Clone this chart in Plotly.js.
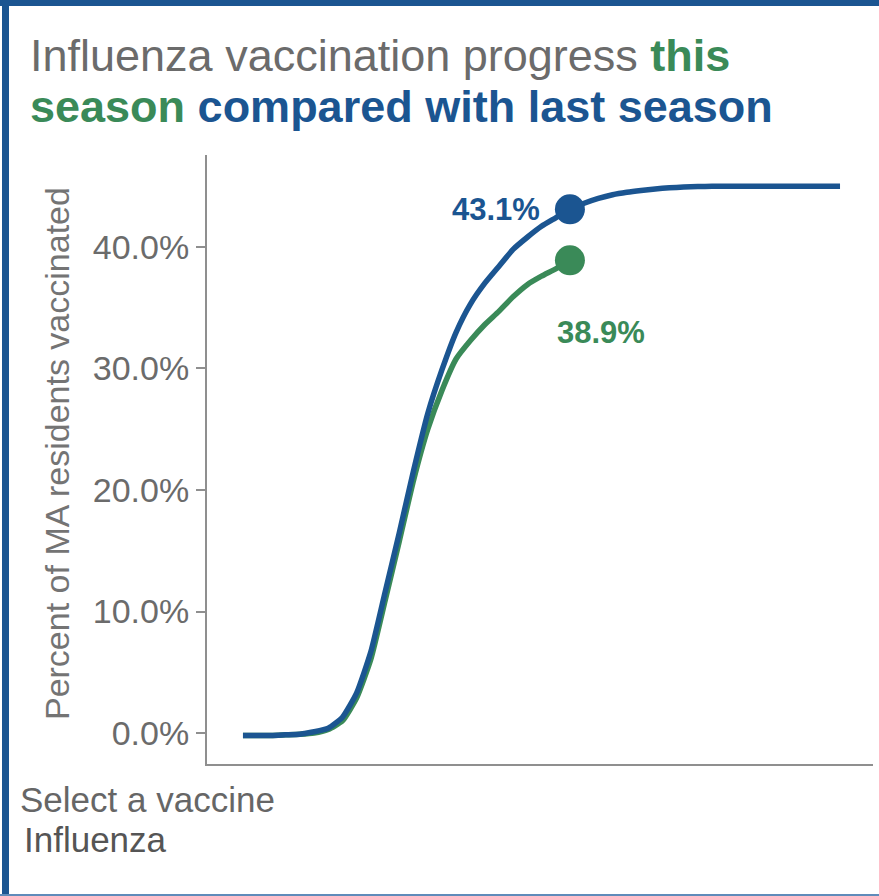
<!DOCTYPE html>
<html>
<head>
<meta charset="utf-8">
<script src="https://cdn.plot.ly/plotly-3.0.1.min.js"></script>
<style>
  html, body { margin: 0; padding: 0; background: #ffffff; }
  #wrap { position: relative; width: 879px; height: 896px; overflow: hidden; }
  #chart { position: absolute; left: 0; top: 0; width: 879px; height: 896px; }
  .bar { position: absolute; pointer-events: none; }
</style>
</head>
<body>
<div id="wrap">
  <div id="chart"></div>
  <div class="bar" style="left:0;top:0;width:879px;height:6px;background:#1b5591;"></div>
  <div class="bar" style="left:2px;top:0;width:7px;height:896px;background:#1b5591;"></div>
  <div class="bar" style="left:0;top:894px;width:879px;height:2px;background:#5f8bba;"></div>
</div>
<script>
// Week index of the season (x axis, no tick labels shown)
const weeks = [0,1,2,3,4,5,6,7,8,9,10,11,12,13,14,15,16,17,18,19,20,
               21,22,23,24,25,26,27,28,29,30,31,32,33,34,35,36,37,38,39,40,41,42];

// Cumulative percent of MA residents vaccinated, last season (full season)
const lastSeason = [-0.2,-0.2,-0.2,-0.15,-0.1,0.1,0.4,1.3,3.3,6.7,11.6,16.5,21.6,26.3,29.9,
                    33.0,35.3,37.0,38.4,39.8,40.8,41.7,42.4,43.1,43.6,44.0,44.3,44.5,44.65,
                    44.78,44.87,44.93,44.97,45.0,45.0,45.0,45.0,45.0,45.0,45.0,45.0,45.0,45.0];

// Cumulative percent vaccinated, this season (to date)
const thisSeason = [-0.2,-0.2,-0.2,-0.15,-0.1,0.0,0.3,1.0,2.9,6.1,10.9,15.8,20.8,25.0,28.2,
                    30.8,32.3,33.6,34.7,35.9,36.9,37.6,38.2,38.9];

// Y tick values and labels
const yTickVals = [0, 10, 20, 30, 40];
const yTickText = ["0.0%", "10.0%", "20.0%", "30.0%", "40.0%"];

const BLUE = "#1b5591";
const GREEN = "#3a8a58";
const GRAY = "#6b6b6b";
const FONT = "Arial, 'Liberation Sans', sans-serif";

const nThis = thisSeason.length;
const curWeek = weeks[nThis - 1];
const curThis = thisSeason[nThis - 1];
const curLast = lastSeason[nThis - 1];

const traces = [
  {
    x: weeks.slice(0, nThis), y: thisSeason, type: "scatter", mode: "lines",
    line: { color: GREEN, width: 5.5, shape: "spline", smoothing: 0.5 },
    hoverinfo: "skip", showlegend: false
  },
  {
    x: weeks, y: lastSeason, type: "scatter", mode: "lines",
    line: { color: BLUE, width: 5.5, shape: "spline", smoothing: 0.5 },
    hoverinfo: "skip", showlegend: false
  },
  {
    x: [curWeek], y: [curLast], type: "scatter", mode: "markers",
    marker: { color: BLUE, size: 30 }, hoverinfo: "skip", showlegend: false
  },
  {
    x: [curWeek], y: [curThis], type: "scatter", mode: "markers",
    marker: { color: GREEN, size: 30 }, hoverinfo: "skip", showlegend: false
  }
];

const layout = {
  width: 879, height: 896,
  margin: { l: 207, r: 6, t: 155, b: 132, pad: 0 },
  paper_bgcolor: "#ffffff", plot_bgcolor: "#ffffff",
  font: { family: FONT, color: GRAY },
  showlegend: false,
  xaxis: {
    range: [-2.53, 44.32], showgrid: false, zeroline: false,
    showline: true, linecolor: "#8f8f8f", linewidth: 2,
    showticklabels: false, ticks: ""
  },
  yaxis: {
    range: [-2.55, 47.57], showgrid: false, zeroline: false,
    showline: true, linecolor: "#8f8f8f", linewidth: 2,
    tickvals: yTickVals, ticktext: yTickText,
    ticks: "outside", ticklen: 9, tickwidth: 2, tickcolor: "#8f8f8f",
    tickfont: { family: FONT, size: 34, color: GRAY }
  },
  annotations: [
    {
      xref: "paper", yref: "paper", x: -0.2688, y: 1.164, xanchor: "left", yanchor: "middle",
      text: "Influenza vaccination progress <b><span style='color:" + GREEN + "'>this</span></b>",
      showarrow: false, font: { family: FONT, size: 45, color: GRAY }
    },
    {
      xref: "paper", yref: "paper", x: -0.2688, y: 1.08, xanchor: "left", yanchor: "middle",
      text: "<b><span style='color:" + GREEN + "'>season</span> <span style='color:" + BLUE + "'>compared with last season</span></b>",
      showarrow: false, font: { family: FONT, size: 45, color: BLUE }
    },
    {
      xref: "paper", yref: "paper", x: -0.2252, y: 0.509, xanchor: "center", yanchor: "middle",
      text: "Percent of MA residents vaccinated", textangle: -90,
      showarrow: false, font: { family: FONT, size: 34, color: "#747474" }
    },
    {
      xref: "x", yref: "y", x: curWeek, y: curLast, xanchor: "right", yanchor: "middle",
      xshift: -28, yshift: 0,
      text: "<b>" + curLast.toFixed(1) + "%</b>",
      showarrow: false, font: { family: FONT, size: 31, color: BLUE }
    },
    {
      xref: "x", yref: "y", x: curWeek, y: curThis, xanchor: "center", yanchor: "middle",
      xshift: 31, yshift: -72,
      text: "<b>" + curThis.toFixed(1) + "%</b>",
      showarrow: false, font: { family: FONT, size: 31, color: GREEN }
    },
    {
      xref: "paper", yref: "paper", x: -0.2838, y: -0.058, xanchor: "left", yanchor: "middle",
      text: "Select a vaccine",
      showarrow: false, font: { family: FONT, size: 35, color: "#666666" }
    },
    {
      xref: "paper", yref: "paper", x: -0.2778, y: -0.1245, xanchor: "left", yanchor: "middle",
      text: "Influenza",
      showarrow: false, font: { family: FONT, size: 35, color: "#555555" }
    }
  ]
};

Plotly.newPlot("chart", traces, layout, { staticPlot: true, displayModeBar: false });
</script>
</body>
</html>
